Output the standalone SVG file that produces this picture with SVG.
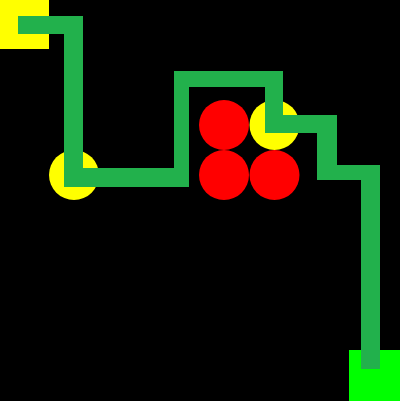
<svg xmlns="http://www.w3.org/2000/svg" width="400" height="401" viewBox="0 0 400 401">
<style>
.y{fill:#ffff00}
.r{fill:#ff0000}
</style>
<rect x="0" y="0" width="400" height="401" fill="#000000"/>
<rect id="start" x="0" y="0" width="49" height="49" class="y"/>
<rect id="goal" x="349" y="350" width="51" height="51" fill="#00ff00"/>
<circle id="c1" cx="74" cy="175" r="25" class="y"/>
<circle id="c2" cx="274.5" cy="125" r="25" class="y"/>
<circle id="r1" cx="224" cy="125" r="25" class="r"/>
<circle id="r2" cx="224" cy="175" r="25" class="r"/>
<circle id="r3" cx="274.5" cy="175" r="25" class="r"/>
<g id="path">
<polygon fill="#22b14c" points="18,16 83,16 83,168 174,168 174,71 283,71 283,115 337,115 337,165 380,165 380,369 361,369 361,180 317,180 317,133 265,133 265,87 189,87 189,187 64,187 64,34 18,34"/>
</g>
</svg>
